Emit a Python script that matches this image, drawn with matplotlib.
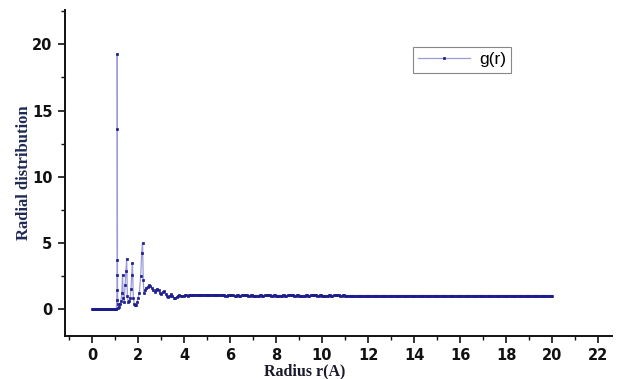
import numpy as np
import matplotlib
matplotlib.use("Agg")
import matplotlib.pyplot as plt
from matplotlib.ticker import MultipleLocator

# ---- data ----
r_base = [0.00, 0.03, 0.06, 0.09, 0.12, 0.15, 0.18, 0.21, 0.24, 0.27, 0.30, 0.33,
          0.36, 0.39, 0.42, 0.45, 0.48, 0.51, 0.54, 0.57, 0.60, 0.63, 0.66, 0.69,
          0.72, 0.75, 0.78, 0.81, 0.84, 0.87, 0.90, 0.93, 0.96, 0.99, 1.02, 1.04]
g_base = [0.0] * 36

r_peak = [1.06, 1.08, 1.09, 1.10, 1.10, 1.10, 1.11, 1.12, 1.14, 1.18, 1.22, 1.26,
          1.30, 1.33, 1.36, 1.40, 1.44, 1.48, 1.51, 1.54, 1.58, 1.62, 1.66, 1.70,
          1.73, 1.76, 1.80, 1.84, 1.88, 1.92, 1.96, 2.00, 2.06, 2.12, 2.16, 2.20,
          2.23, 2.26, 2.30, 2.36, 2.42, 2.48, 2.54, 2.60, 2.66, 2.72, 2.78, 2.84,
          2.90, 2.96, 3.02, 3.08, 3.14, 3.20, 3.26, 3.32, 3.38, 3.44, 3.50, 3.56,
          3.62, 3.68, 3.74, 3.80, 3.86, 3.92, 3.98, 4.04, 4.10, 4.16]
g_peak = [0.0, 0.7, 1.4, 3.7, 13.6, 19.3, 2.6, 0.4, 0.05, 0.15, 0.4, 0.6,
          1.2, 2.6, 0.8, 0.5, 1.8, 2.9, 3.8, 1.0, 0.5, 0.6, 0.8, 1.5,
          2.6, 3.5, 0.8, 0.4, 0.3, 0.3, 0.5, 0.8, 1.2, 2.5, 4.2, 5.0,
          2.2, 1.2, 1.4, 1.6, 1.7, 1.8, 1.75, 1.6, 1.4, 1.3, 1.45, 1.55,
          1.4, 1.2, 1.1, 1.3, 1.35, 1.15, 0.95, 0.9, 1.0, 1.1, 1.0, 0.85,
          0.8, 0.9, 1.0, 1.05, 1.0, 0.95, 1.0, 1.05, 1.05, 1.0]

r_tail = np.round(np.arange(4.2, 20.001, 0.05), 2)
g_tail = ([1.05, 1.05, 1.06, 1.06, 1.07, 1.07, 1.08, 1.08, 1.08, 1.08,
           1.09, 1.09, 1.09, 1.09, 1.08, 1.08, 1.08, 1.08, 1.07, 1.07,
           1.06, 1.06, 1.05, 1.05, 1.04, 1.04, 1.04, 1.04, 1.03, 1.03,
           1.03, 1.03, 1.02, 1.02, 1.03, 1.03, 1.04, 1.04, 1.03, 1.03] +
          [1.02, 1.02, 1.03, 1.03, 1.02, 1.02, 1.03, 1.03, 1.04, 1.04,
           1.03, 1.03, 1.02, 1.02, 1.03, 1.03, 1.02, 1.02, 1.02, 1.02] * 5 +
          [1.02] * 180)

r = np.concatenate([r_base, r_peak, r_tail])
g = np.concatenate([g_base, g_peak, g_tail[:len(r_tail)]])

x_ticks = [0, 2, 4, 6, 8, 10, 12, 14, 16, 18, 20, 22]
y_ticks = [0, 5, 10, 15, 20]

# ---- figure ----
fig = plt.figure(figsize=(6.19, 3.79), dpi=100)
ax = fig.add_axes([65/619, 1-336/379, (612-65)/619, (336-10)/379])

line_col = '#9a9ad8'
mark_col = '#1c1c8c'
ax.plot(r, g, color=line_col, lw=0.9, marker='s', ms=1.6,
        mfc=mark_col, mec=mark_col, mew=0.5, label='g(r)')

ax.set_xlim(-1.17, 22.6)
ax.set_ylim(-2.04, 22.6)
ax.set_xticks(x_ticks)
ax.set_yticks(y_ticks)
ax.xaxis.set_minor_locator(MultipleLocator(1))
ax.yaxis.set_minor_locator(MultipleLocator(2.5))

for s in ['top', 'right']:
    ax.spines[s].set_visible(False)
for s in ['left', 'bottom']:
    ax.spines[s].set_linewidth(1.4)
    ax.spines[s].set_color('#111111')

ax.tick_params(which='major', direction='out', length=5, width=1.2,
               labelsize=10.5, colors='#111111', pad=4)
ax.tick_params(which='minor', direction='out', length=3, width=1.0,
               colors='#111111')
for lab in ax.get_xticklabels() + ax.get_yticklabels():
    lab.set_fontweight('bold')
    lab.set_fontfamily('DejaVu Sans')

ax.set_xlabel('Radius r(A)', fontsize=11.5, fontweight='bold',
              family='Liberation Serif', color='#1a1a2a', labelpad=0)
ax.xaxis.set_label_coords((305-65)/547, -0.085)
ax.set_ylabel('Radial distribution', fontsize=12, fontweight='bold',
              family='Liberation Serif', color='#1f2a55', labelpad=0)

leg = ax.legend(loc='upper left', bbox_to_anchor=(413/619, 1-47/379),
                bbox_transform=fig.transFigure, fancybox=False,
                framealpha=1, edgecolor='#888888', handlelength=3.0,
                handletextpad=0.5, borderpad=0.3, borderaxespad=0,
                prop={'family': 'Liberation Sans', 'size': 12.5},
                markerscale=1.3)
leg.get_frame().set_linewidth(0.8)

fig.savefig('out.png', dpi=100)
